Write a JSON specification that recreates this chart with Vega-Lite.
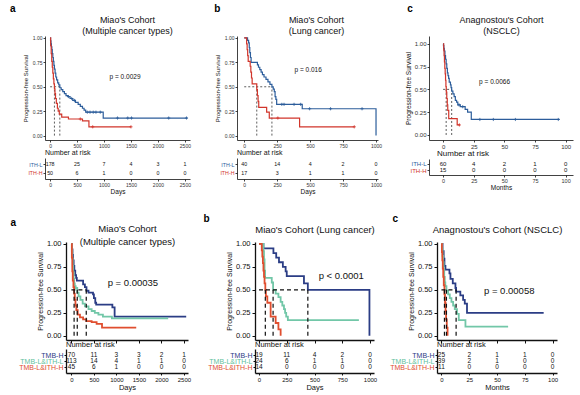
{
"$schema": "https://vega.github.io/schema/vega-lite/v6.json",
"padding": {"left": 9, "top": 3, "right": 2, "bottom": 2},
"config": {"font": "Liberation Sans", "view": {"stroke": null},
 "axis": {"grid": false, "domainColor": "#111", "tickColor": "#111", "labelColor": "#333", "titleColor": "#111", "titleFontWeight": "normal"},
 "title": {"fontWeight": "normal", "color": "#111"}},
"datasets": {
"km": [
{"p":"ta","g":"ITH-L","t":0,"s":1},{"p":"ta","g":"ITH-L","t":8,"s":0.97},{"p":"ta","g":"ITH-L","t":16,"s":0.94},{"p":"ta","g":"ITH-L","t":24,"s":0.91},{"p":"ta","g":"ITH-L","t":32,"s":0.88},{"p":"ta","g":"ITH-L","t":40,"s":0.84},{"p":"ta","g":"ITH-L","t":50,"s":0.8},{"p":"ta","g":"ITH-L","t":60,"s":0.76},{"p":"ta","g":"ITH-L","t":70,"s":0.72},{"p":"ta","g":"ITH-L","t":80,"s":0.68},{"p":"ta","g":"ITH-L","t":92,"s":0.64},{"p":"ta","g":"ITH-L","t":105,"s":0.6},{"p":"ta","g":"ITH-L","t":120,"s":0.57},{"p":"ta","g":"ITH-L","t":140,"s":0.54},{"p":"ta","g":"ITH-L","t":160,"s":0.52},{"p":"ta","g":"ITH-L","t":180,"s":0.49},{"p":"ta","g":"ITH-L","t":205,"s":0.47},{"p":"ta","g":"ITH-L","t":235,"s":0.45},{"p":"ta","g":"ITH-L","t":265,"s":0.43},{"p":"ta","g":"ITH-L","t":295,"s":0.41},{"p":"ta","g":"ITH-L","t":330,"s":0.4},{"p":"ta","g":"ITH-L","t":370,"s":0.38},{"p":"ta","g":"ITH-L","t":420,"s":0.36},{"p":"ta","g":"ITH-L","t":470,"s":0.34},{"p":"ta","g":"ITH-L","t":520,"s":0.32},{"p":"ta","g":"ITH-L","t":560,"s":0.3},{"p":"ta","g":"ITH-L","t":600,"s":0.28},{"p":"ta","g":"ITH-L","t":630,"s":0.26},{"p":"ta","g":"ITH-L","t":660,"s":0.24},{"p":"ta","g":"ITH-L","t":985,"s":0.18},{"p":"ta","g":"ITH-L","t":2550,"s":0.18},
{"p":"ta","g":"ITH-H","t":0,"s":1},{"p":"ta","g":"ITH-H","t":10,"s":0.92},{"p":"ta","g":"ITH-H","t":20,"s":0.84},{"p":"ta","g":"ITH-H","t":30,"s":0.76},{"p":"ta","g":"ITH-H","t":40,"s":0.7},{"p":"ta","g":"ITH-H","t":50,"s":0.64},{"p":"ta","g":"ITH-H","t":60,"s":0.58},{"p":"ta","g":"ITH-H","t":70,"s":0.53},{"p":"ta","g":"ITH-H","t":80,"s":0.48},{"p":"ta","g":"ITH-H","t":90,"s":0.43},{"p":"ta","g":"ITH-H","t":100,"s":0.38},{"p":"ta","g":"ITH-H","t":115,"s":0.33},{"p":"ta","g":"ITH-H","t":135,"s":0.28},{"p":"ta","g":"ITH-H","t":150,"s":0.25},{"p":"ta","g":"ITH-H","t":170,"s":0.22},{"p":"ta","g":"ITH-H","t":215,"s":0.19},{"p":"ta","g":"ITH-H","t":340,"s":0.17},{"p":"ta","g":"ITH-H","t":600,"s":0.15},{"p":"ta","g":"ITH-H","t":720,"s":0.09},{"p":"ta","g":"ITH-H","t":1500,"s":0.09},
{"p":"tb","g":"ITH-L","t":0,"s":1},{"p":"tb","g":"ITH-L","t":25,"s":0.975},{"p":"tb","g":"ITH-L","t":33,"s":0.95},{"p":"tb","g":"ITH-L","t":38,"s":0.9},{"p":"tb","g":"ITH-L","t":42,"s":0.85},{"p":"tb","g":"ITH-L","t":47,"s":0.8},{"p":"tb","g":"ITH-L","t":52,"s":0.75},{"p":"tb","g":"ITH-L","t":100,"s":0.725},{"p":"tb","g":"ITH-L","t":108,"s":0.7},{"p":"tb","g":"ITH-L","t":118,"s":0.675},{"p":"tb","g":"ITH-L","t":128,"s":0.65},{"p":"tb","g":"ITH-L","t":138,"s":0.625},{"p":"tb","g":"ITH-L","t":150,"s":0.6},{"p":"tb","g":"ITH-L","t":165,"s":0.575},{"p":"tb","g":"ITH-L","t":180,"s":0.55},{"p":"tb","g":"ITH-L","t":195,"s":0.525},{"p":"tb","g":"ITH-L","t":210,"s":0.5},{"p":"tb","g":"ITH-L","t":220,"s":0.475},{"p":"tb","g":"ITH-L","t":228,"s":0.45},{"p":"tb","g":"ITH-L","t":234,"s":0.4},{"p":"tb","g":"ITH-L","t":240,"s":0.37},{"p":"tb","g":"ITH-L","t":246,"s":0.32},{"p":"tb","g":"ITH-L","t":440,"s":0.275},{"p":"tb","g":"ITH-L","t":1000,"s":0},
{"p":"tb","g":"ITH-H","t":0,"s":1},{"p":"tb","g":"ITH-H","t":18,"s":0.94},{"p":"tb","g":"ITH-H","t":22,"s":0.88},{"p":"tb","g":"ITH-H","t":26,"s":0.82},{"p":"tb","g":"ITH-H","t":30,"s":0.76},{"p":"tb","g":"ITH-H","t":45,"s":0.71},{"p":"tb","g":"ITH-H","t":50,"s":0.65},{"p":"tb","g":"ITH-H","t":55,"s":0.59},{"p":"tb","g":"ITH-H","t":60,"s":0.53},{"p":"tb","g":"ITH-H","t":95,"s":0.47},{"p":"tb","g":"ITH-H","t":100,"s":0.41},{"p":"tb","g":"ITH-H","t":105,"s":0.35},{"p":"tb","g":"ITH-H","t":110,"s":0.29},{"p":"tb","g":"ITH-H","t":170,"s":0.24},{"p":"tb","g":"ITH-H","t":190,"s":0.18},{"p":"tb","g":"ITH-H","t":420,"s":0.09},{"p":"tb","g":"ITH-H","t":835,"s":0.09},
{"p":"tc","g":"ITH-L","t":0,"s":1},{"p":"tc","g":"ITH-L","t":0.3,"s":0.98},{"p":"tc","g":"ITH-L","t":0.6,"s":0.95},{"p":"tc","g":"ITH-L","t":1,"s":0.92},{"p":"tc","g":"ITH-L","t":1.5,"s":0.87},{"p":"tc","g":"ITH-L","t":2,"s":0.83},{"p":"tc","g":"ITH-L","t":2.5,"s":0.78},{"p":"tc","g":"ITH-L","t":3,"s":0.73},{"p":"tc","g":"ITH-L","t":3.5,"s":0.68},{"p":"tc","g":"ITH-L","t":4,"s":0.65},{"p":"tc","g":"ITH-L","t":4.5,"s":0.62},{"p":"tc","g":"ITH-L","t":5,"s":0.58},{"p":"tc","g":"ITH-L","t":6,"s":0.55},{"p":"tc","g":"ITH-L","t":6.5,"s":0.52},{"p":"tc","g":"ITH-L","t":7,"s":0.48},{"p":"tc","g":"ITH-L","t":8,"s":0.45},{"p":"tc","g":"ITH-L","t":9,"s":0.42},{"p":"tc","g":"ITH-L","t":10,"s":0.38},{"p":"tc","g":"ITH-L","t":11,"s":0.36},{"p":"tc","g":"ITH-L","t":12,"s":0.33},{"p":"tc","g":"ITH-L","t":14,"s":0.31},{"p":"tc","g":"ITH-L","t":18,"s":0.28},{"p":"tc","g":"ITH-L","t":20,"s":0.25},{"p":"tc","g":"ITH-L","t":23,"s":0.17},{"p":"tc","g":"ITH-L","t":95,"s":0.17},
{"p":"tc","g":"ITH-H","t":0,"s":1},{"p":"tc","g":"ITH-H","t":0.5,"s":0.93},{"p":"tc","g":"ITH-H","t":0.8,"s":0.87},{"p":"tc","g":"ITH-H","t":1.1,"s":0.8},{"p":"tc","g":"ITH-H","t":1.4,"s":0.73},{"p":"tc","g":"ITH-H","t":1.7,"s":0.67},{"p":"tc","g":"ITH-H","t":2,"s":0.6},{"p":"tc","g":"ITH-H","t":2.3,"s":0.53},{"p":"tc","g":"ITH-H","t":2.6,"s":0.47},{"p":"tc","g":"ITH-H","t":3,"s":0.4},{"p":"tc","g":"ITH-H","t":3.4,"s":0.33},{"p":"tc","g":"ITH-H","t":3.8,"s":0.27},{"p":"tc","g":"ITH-H","t":4.6,"s":0.18},{"p":"tc","g":"ITH-H","t":11.5,"s":0.11},{"p":"tc","g":"ITH-H","t":13.5,"s":0.11},
{"p":"ba","g":"TMB-H","t":0,"s":1},{"p":"ba","g":"TMB-H","t":12,"s":0.94},{"p":"ba","g":"TMB-H","t":24,"s":0.88},{"p":"ba","g":"TMB-H","t":36,"s":0.82},{"p":"ba","g":"TMB-H","t":50,"s":0.76},{"p":"ba","g":"TMB-H","t":65,"s":0.71},{"p":"ba","g":"TMB-H","t":85,"s":0.66},{"p":"ba","g":"TMB-H","t":105,"s":0.63},{"p":"ba","g":"TMB-H","t":120,"s":0.6},{"p":"ba","g":"TMB-H","t":260,"s":0.56},{"p":"ba","g":"TMB-H","t":300,"s":0.53},{"p":"ba","g":"TMB-H","t":335,"s":0.49},{"p":"ba","g":"TMB-H","t":380,"s":0.47},{"p":"ba","g":"TMB-H","t":480,"s":0.45},{"p":"ba","g":"TMB-H","t":500,"s":0.41},{"p":"ba","g":"TMB-H","t":530,"s":0.36},{"p":"ba","g":"TMB-H","t":550,"s":0.34},{"p":"ba","g":"TMB-H","t":910,"s":0.31},{"p":"ba","g":"TMB-H","t":960,"s":0.21},{"p":"ba","g":"TMB-H","t":2550,"s":0.21},
{"p":"ba","g":"TMB-L&ITH-L","t":0,"s":1},{"p":"ba","g":"TMB-L&ITH-L","t":10,"s":0.92},{"p":"ba","g":"TMB-L&ITH-L","t":20,"s":0.84},{"p":"ba","g":"TMB-L&ITH-L","t":30,"s":0.76},{"p":"ba","g":"TMB-L&ITH-L","t":40,"s":0.69},{"p":"ba","g":"TMB-L&ITH-L","t":50,"s":0.62},{"p":"ba","g":"TMB-L&ITH-L","t":60,"s":0.57},{"p":"ba","g":"TMB-L&ITH-L","t":75,"s":0.54},{"p":"ba","g":"TMB-L&ITH-L","t":95,"s":0.52},{"p":"ba","g":"TMB-L&ITH-L","t":130,"s":0.47},{"p":"ba","g":"TMB-L&ITH-L","t":160,"s":0.43},{"p":"ba","g":"TMB-L&ITH-L","t":200,"s":0.39},{"p":"ba","g":"TMB-L&ITH-L","t":250,"s":0.35},{"p":"ba","g":"TMB-L&ITH-L","t":300,"s":0.32},{"p":"ba","g":"TMB-L&ITH-L","t":380,"s":0.29},{"p":"ba","g":"TMB-L&ITH-L","t":450,"s":0.27},{"p":"ba","g":"TMB-L&ITH-L","t":520,"s":0.25},{"p":"ba","g":"TMB-L&ITH-L","t":600,"s":0.23},{"p":"ba","g":"TMB-L&ITH-L","t":700,"s":0.21},{"p":"ba","g":"TMB-L&ITH-L","t":900,"s":0.19},{"p":"ba","g":"TMB-L&ITH-L","t":2150,"s":0.19},
{"p":"ba","g":"TMB-L&ITH-H","t":0,"s":1},{"p":"ba","g":"TMB-L&ITH-H","t":10,"s":0.85},{"p":"ba","g":"TMB-L&ITH-H","t":20,"s":0.7},{"p":"ba","g":"TMB-L&ITH-H","t":30,"s":0.6},{"p":"ba","g":"TMB-L&ITH-H","t":45,"s":0.53},{"p":"ba","g":"TMB-L&ITH-H","t":60,"s":0.46},{"p":"ba","g":"TMB-L&ITH-H","t":75,"s":0.39},{"p":"ba","g":"TMB-L&ITH-H","t":90,"s":0.33},{"p":"ba","g":"TMB-L&ITH-H","t":110,"s":0.28},{"p":"ba","g":"TMB-L&ITH-H","t":140,"s":0.23},{"p":"ba","g":"TMB-L&ITH-H","t":190,"s":0.2},{"p":"ba","g":"TMB-L&ITH-H","t":260,"s":0.18},{"p":"ba","g":"TMB-L&ITH-H","t":330,"s":0.16},{"p":"ba","g":"TMB-L&ITH-H","t":450,"s":0.15},{"p":"ba","g":"TMB-L&ITH-H","t":560,"s":0.13},{"p":"ba","g":"TMB-L&ITH-H","t":680,"s":0.09},{"p":"ba","g":"TMB-L&ITH-H","t":1440,"s":0.09},
{"p":"bb","g":"TMB-H","t":0,"s":1},{"p":"bb","g":"TMB-H","t":40,"s":0.95},{"p":"bb","g":"TMB-H","t":130,"s":0.9},{"p":"bb","g":"TMB-H","t":155,"s":0.85},{"p":"bb","g":"TMB-H","t":180,"s":0.8},{"p":"bb","g":"TMB-H","t":215,"s":0.75},{"p":"bb","g":"TMB-H","t":240,"s":0.7},{"p":"bb","g":"TMB-H","t":250,"s":0.65},{"p":"bb","g":"TMB-H","t":405,"s":0.57},{"p":"bb","g":"TMB-H","t":440,"s":0.5},{"p":"bb","g":"TMB-H","t":995,"s":0},
{"p":"bb","g":"TMB-L&ITH-L","t":0,"s":1},{"p":"bb","g":"TMB-L&ITH-L","t":40,"s":0.92},{"p":"bb","g":"TMB-L&ITH-L","t":45,"s":0.83},{"p":"bb","g":"TMB-L&ITH-L","t":50,"s":0.71},{"p":"bb","g":"TMB-L&ITH-L","t":55,"s":0.63},{"p":"bb","g":"TMB-L&ITH-L","t":115,"s":0.58},{"p":"bb","g":"TMB-L&ITH-L","t":127,"s":0.5},{"p":"bb","g":"TMB-L&ITH-L","t":150,"s":0.46},{"p":"bb","g":"TMB-L&ITH-L","t":175,"s":0.42},{"p":"bb","g":"TMB-L&ITH-L","t":195,"s":0.37},{"p":"bb","g":"TMB-L&ITH-L","t":210,"s":0.33},{"p":"bb","g":"TMB-L&ITH-L","t":225,"s":0.29},{"p":"bb","g":"TMB-L&ITH-L","t":235,"s":0.25},{"p":"bb","g":"TMB-L&ITH-L","t":245,"s":0.21},{"p":"bb","g":"TMB-L&ITH-L","t":260,"s":0.17},{"p":"bb","g":"TMB-L&ITH-L","t":900,"s":0.17},
{"p":"bb","g":"TMB-L&ITH-H","t":0,"s":1},{"p":"bb","g":"TMB-L&ITH-H","t":25,"s":0.93},{"p":"bb","g":"TMB-L&ITH-H","t":30,"s":0.86},{"p":"bb","g":"TMB-L&ITH-H","t":35,"s":0.79},{"p":"bb","g":"TMB-L&ITH-H","t":40,"s":0.71},{"p":"bb","g":"TMB-L&ITH-H","t":45,"s":0.64},{"p":"bb","g":"TMB-L&ITH-H","t":50,"s":0.57},{"p":"bb","g":"TMB-L&ITH-H","t":57,"s":0.5},{"p":"bb","g":"TMB-L&ITH-H","t":62,"s":0.43},{"p":"bb","g":"TMB-L&ITH-H","t":75,"s":0.36},{"p":"bb","g":"TMB-L&ITH-H","t":105,"s":0.21},{"p":"bb","g":"TMB-L&ITH-H","t":150,"s":0.14},{"p":"bb","g":"TMB-L&ITH-H","t":175,"s":0.07},{"p":"bb","g":"TMB-L&ITH-H","t":195,"s":0},
{"p":"bc","g":"TMB-H","t":0,"s":1},{"p":"bc","g":"TMB-H","t":1,"s":0.92},{"p":"bc","g":"TMB-H","t":2,"s":0.84},{"p":"bc","g":"TMB-H","t":2.7,"s":0.76},{"p":"bc","g":"TMB-H","t":3.6,"s":0.72},{"p":"bc","g":"TMB-H","t":7.2,"s":0.68},{"p":"bc","g":"TMB-H","t":8.1,"s":0.62},{"p":"bc","g":"TMB-H","t":10.2,"s":0.57},{"p":"bc","g":"TMB-H","t":12.6,"s":0.52},{"p":"bc","g":"TMB-H","t":13.2,"s":0.48},{"p":"bc","g":"TMB-H","t":17,"s":0.44},{"p":"bc","g":"TMB-H","t":19.5,"s":0.39},{"p":"bc","g":"TMB-H","t":21,"s":0.35},{"p":"bc","g":"TMB-H","t":23,"s":0.25},{"p":"bc","g":"TMB-H","t":92,"s":0.25},
{"p":"bc","g":"TMB-L&ITH-L","t":0,"s":1},{"p":"bc","g":"TMB-L&ITH-L","t":0.5,"s":0.95},{"p":"bc","g":"TMB-L&ITH-L","t":1,"s":0.87},{"p":"bc","g":"TMB-L&ITH-L","t":1.5,"s":0.8},{"p":"bc","g":"TMB-L&ITH-L","t":2,"s":0.72},{"p":"bc","g":"TMB-L&ITH-L","t":2.5,"s":0.64},{"p":"bc","g":"TMB-L&ITH-L","t":3,"s":0.58},{"p":"bc","g":"TMB-L&ITH-L","t":3.5,"s":0.54},{"p":"bc","g":"TMB-L&ITH-L","t":4.5,"s":0.49},{"p":"bc","g":"TMB-L&ITH-L","t":6,"s":0.45},{"p":"bc","g":"TMB-L&ITH-L","t":7.5,"s":0.41},{"p":"bc","g":"TMB-L&ITH-L","t":9,"s":0.37},{"p":"bc","g":"TMB-L&ITH-L","t":10.5,"s":0.33},{"p":"bc","g":"TMB-L&ITH-L","t":12,"s":0.29},{"p":"bc","g":"TMB-L&ITH-L","t":14,"s":0.24},{"p":"bc","g":"TMB-L&ITH-L","t":15.6,"s":0.17},{"p":"bc","g":"TMB-L&ITH-L","t":21.6,"s":0.1},{"p":"bc","g":"TMB-L&ITH-L","t":60,"s":0.1},
{"p":"bc","g":"TMB-L&ITH-H","t":0,"s":1},{"p":"bc","g":"TMB-L&ITH-H","t":0.4,"s":0.91},{"p":"bc","g":"TMB-L&ITH-H","t":0.8,"s":0.82},{"p":"bc","g":"TMB-L&ITH-H","t":1.2,"s":0.73},{"p":"bc","g":"TMB-L&ITH-H","t":1.6,"s":0.64},{"p":"bc","g":"TMB-L&ITH-H","t":2.1,"s":0.55},{"p":"bc","g":"TMB-L&ITH-H","t":2.7,"s":0.45},{"p":"bc","g":"TMB-L&ITH-H","t":3.2,"s":0.36},{"p":"bc","g":"TMB-L&ITH-H","t":3.7,"s":0.27},{"p":"bc","g":"TMB-L&ITH-H","t":4.2,"s":0.18},{"p":"bc","g":"TMB-L&ITH-H","t":4.8,"s":0.09},{"p":"bc","g":"TMB-L&ITH-H","t":5.5,"s":0}
],
"cens": [
{"p":"ta","g":"ITH-L","t":340,"s":0.4},{"p":"ta","g":"ITH-L","t":400,"s":0.38},{"p":"ta","g":"ITH-L","t":450,"s":0.36},{"p":"ta","g":"ITH-L","t":690,"s":0.24},{"p":"ta","g":"ITH-L","t":740,"s":0.24},{"p":"ta","g":"ITH-L","t":800,"s":0.24},{"p":"ta","g":"ITH-L","t":850,"s":0.24},{"p":"ta","g":"ITH-L","t":930,"s":0.24},{"p":"ta","g":"ITH-L","t":1250,"s":0.18},{"p":"ta","g":"ITH-L","t":1440,"s":0.18},{"p":"ta","g":"ITH-L","t":1510,"s":0.18},{"p":"ta","g":"ITH-L","t":2200,"s":0.18},{"p":"ta","g":"ITH-L","t":2530,"s":0.18},
{"p":"ta","g":"ITH-H","t":560,"s":0.17},{"p":"ta","g":"ITH-H","t":790,"s":0.09},{"p":"ta","g":"ITH-H","t":1500,"s":0.09},
{"p":"tb","g":"ITH-L","t":285,"s":0.32},{"p":"tb","g":"ITH-L","t":302,"s":0.32},{"p":"tb","g":"ITH-L","t":378,"s":0.32},{"p":"tb","g":"ITH-L","t":428,"s":0.32},{"p":"tb","g":"ITH-L","t":496,"s":0.275},{"p":"tb","g":"ITH-L","t":655,"s":0.275},{"p":"tb","g":"ITH-L","t":894,"s":0.275},
{"p":"tb","g":"ITH-H","t":255,"s":0.18},{"p":"tb","g":"ITH-H","t":835,"s":0.09},
{"p":"tc","g":"ITH-L","t":13,"s":0.33},{"p":"tc","g":"ITH-L","t":16,"s":0.31},{"p":"tc","g":"ITH-L","t":30,"s":0.17},{"p":"tc","g":"ITH-L","t":41,"s":0.17},{"p":"tc","g":"ITH-L","t":59,"s":0.17},{"p":"tc","g":"ITH-L","t":94,"s":0.17},
{"p":"tc","g":"ITH-H","t":13.3,"s":0.11}
],
"med": [
{"p":"ta","t":0,"t2":180,"s":0.5,"s2":0.5},{"p":"ta","t":80,"t2":80,"s":0,"s2":0.5},{"p":"ta","t":180,"t2":180,"s":0,"s2":0.5},
{"p":"tb","t":0,"t2":210,"s":0.5,"s2":0.5},{"p":"tb","t":95,"t2":95,"s":0,"s2":0.5},{"p":"tb","t":210,"t2":210,"s":0,"s2":0.5},
{"p":"tc","t":0,"t2":7,"s":0.5,"s2":0.5},{"p":"tc","t":2.5,"t2":2.5,"s":0,"s2":0.5},{"p":"tc","t":7,"t2":7,"s":0,"s2":0.5},
{"p":"ba","t":0,"t2":330,"s":0.5,"s2":0.5},{"p":"ba","t":60,"t2":60,"s":0,"s2":0.5},{"p":"ba","t":130,"t2":130,"s":0,"s2":0.5},{"p":"ba","t":330,"t2":330,"s":0,"s2":0.5},
{"p":"bb","t":0,"t2":440,"s":0.5,"s2":0.5},{"p":"bb","t":57,"t2":57,"s":0,"s2":0.5},{"p":"bb","t":127,"t2":127,"s":0,"s2":0.5},{"p":"bb","t":440,"t2":440,"s":0,"s2":0.5},
{"p":"bc","t":0,"t2":13.2,"s":0.5,"s2":0.5},{"p":"bc","t":2.7,"t2":2.7,"s":0,"s2":0.5},{"p":"bc","t":4.5,"t2":4.5,"s":0,"s2":0.5},{"p":"bc","t":13.2,"t2":13.2,"s":0,"s2":0.5}
],
"pv": [
{"p":"ta","t":1390,"s":0.6,"label":"p = 0.0029"},
{"p":"tb","t":485,"s":0.67,"label":"p = 0.016"},
{"p":"tc","t":42,"s":0.58,"label":"p = 0.0066"},
{"p":"ba","t":1365,"s":0.57,"label":"p = 0.00035"},
{"p":"bb","t":741,"s":0.65,"label":"p < 0.0001"},
{"p":"bc","t":61,"s":0.49,"label":"p = 0.00058"}
],
"risk": [
{"p":"ta","g":"ITH-L","t":0,"n":178},{"p":"ta","g":"ITH-L","t":500,"n":25},{"p":"ta","g":"ITH-L","t":1000,"n":7},{"p":"ta","g":"ITH-L","t":1500,"n":4},{"p":"ta","g":"ITH-L","t":2000,"n":3},{"p":"ta","g":"ITH-L","t":2500,"n":1},
{"p":"ta","g":"ITH-H","t":0,"n":50},{"p":"ta","g":"ITH-H","t":500,"n":6},{"p":"ta","g":"ITH-H","t":1000,"n":1},{"p":"ta","g":"ITH-H","t":1500,"n":0},{"p":"ta","g":"ITH-H","t":2000,"n":0},{"p":"ta","g":"ITH-H","t":2500,"n":0},
{"p":"tb","g":"ITH-L","t":0,"n":40},{"p":"tb","g":"ITH-L","t":250,"n":14},{"p":"tb","g":"ITH-L","t":500,"n":4},{"p":"tb","g":"ITH-L","t":750,"n":2},{"p":"tb","g":"ITH-L","t":1000,"n":0},
{"p":"tb","g":"ITH-H","t":0,"n":17},{"p":"tb","g":"ITH-H","t":250,"n":3},{"p":"tb","g":"ITH-H","t":500,"n":1},{"p":"tb","g":"ITH-H","t":750,"n":1},{"p":"tb","g":"ITH-H","t":1000,"n":0},
{"p":"tc","g":"ITH-L","t":0,"n":60},{"p":"tc","g":"ITH-L","t":25,"n":4},{"p":"tc","g":"ITH-L","t":50,"n":2},{"p":"tc","g":"ITH-L","t":75,"n":1},{"p":"tc","g":"ITH-L","t":100,"n":0},
{"p":"tc","g":"ITH-H","t":0,"n":15},{"p":"tc","g":"ITH-H","t":25,"n":0},{"p":"tc","g":"ITH-H","t":50,"n":0},{"p":"tc","g":"ITH-H","t":75,"n":0},{"p":"tc","g":"ITH-H","t":100,"n":0},
{"p":"ba","g":"TMB-H","t":0,"n":70},{"p":"ba","g":"TMB-H","t":500,"n":11},{"p":"ba","g":"TMB-H","t":1000,"n":3},{"p":"ba","g":"TMB-H","t":1500,"n":3},{"p":"ba","g":"TMB-H","t":2000,"n":2},{"p":"ba","g":"TMB-H","t":2500,"n":1},
{"p":"ba","g":"TMB-L&ITH-L","t":0,"n":113},{"p":"ba","g":"TMB-L&ITH-L","t":500,"n":14},{"p":"ba","g":"TMB-L&ITH-L","t":1000,"n":4},{"p":"ba","g":"TMB-L&ITH-L","t":1500,"n":1},{"p":"ba","g":"TMB-L&ITH-L","t":2000,"n":1},{"p":"ba","g":"TMB-L&ITH-L","t":2500,"n":0},
{"p":"ba","g":"TMB-L&ITH-H","t":0,"n":45},{"p":"ba","g":"TMB-L&ITH-H","t":500,"n":6},{"p":"ba","g":"TMB-L&ITH-H","t":1000,"n":1},{"p":"ba","g":"TMB-L&ITH-H","t":1500,"n":0},{"p":"ba","g":"TMB-L&ITH-H","t":2000,"n":0},{"p":"ba","g":"TMB-L&ITH-H","t":2500,"n":0},
{"p":"bb","g":"TMB-H","t":0,"n":19},{"p":"bb","g":"TMB-H","t":250,"n":11},{"p":"bb","g":"TMB-H","t":500,"n":4},{"p":"bb","g":"TMB-H","t":750,"n":2},{"p":"bb","g":"TMB-H","t":1000,"n":0},
{"p":"bb","g":"TMB-L&ITH-L","t":0,"n":24},{"p":"bb","g":"TMB-L&ITH-L","t":250,"n":6},{"p":"bb","g":"TMB-L&ITH-L","t":500,"n":1},{"p":"bb","g":"TMB-L&ITH-L","t":750,"n":1},{"p":"bb","g":"TMB-L&ITH-L","t":1000,"n":0},
{"p":"bb","g":"TMB-L&ITH-H","t":0,"n":14},{"p":"bb","g":"TMB-L&ITH-H","t":250,"n":0},{"p":"bb","g":"TMB-L&ITH-H","t":500,"n":0},{"p":"bb","g":"TMB-L&ITH-H","t":750,"n":0},{"p":"bb","g":"TMB-L&ITH-H","t":1000,"n":0},
{"p":"bc","g":"TMB-H","t":0,"n":25},{"p":"bc","g":"TMB-H","t":25,"n":2},{"p":"bc","g":"TMB-H","t":50,"n":1},{"p":"bc","g":"TMB-H","t":75,"n":1},{"p":"bc","g":"TMB-H","t":100,"n":0},
{"p":"bc","g":"TMB-L&ITH-L","t":0,"n":39},{"p":"bc","g":"TMB-L&ITH-L","t":25,"n":2},{"p":"bc","g":"TMB-L&ITH-L","t":50,"n":1},{"p":"bc","g":"TMB-L&ITH-L","t":75,"n":0},{"p":"bc","g":"TMB-L&ITH-L","t":100,"n":0},
{"p":"bc","g":"TMB-L&ITH-H","t":0,"n":11},{"p":"bc","g":"TMB-L&ITH-H","t":25,"n":0},{"p":"bc","g":"TMB-L&ITH-H","t":50,"n":0},{"p":"bc","g":"TMB-L&ITH-H","t":75,"n":0},{"p":"bc","g":"TMB-L&ITH-H","t":100,"n":0}
]
},
"vconcat": [
{"spacing": 0, "hconcat": [
 {"width": 1, "height": 1, "data": {"values": []}, "mark": "point"},
 {"spacing": 23, "hconcat": [
 {"spacing": 1, "vconcat": [
  {"width": 145, "height": 104,
   "title": {"text": "a", "anchor": "start", "frame": "group", "fontSize": 10, "fontWeight": "bold", "color": "#000", "offset": 1.5, "dx": -35},
   "resolve": {"axis": {"x": "independent"}},
   "encoding": {"y": {"field": "s", "type": "quantitative", "scale": {"domain": [-0.045, 1.02], "nice": false, "zero": false}, "axis": {"values": [0,0.25,0.5,0.75,1], "format": ".2f", "title": "Progression-free Survival", "labelFontSize": 5, "titleFontSize": 6, "tickSize": 2, "labelPadding": 1, "titlePadding": 4, "domainWidth": 0.8, "tickWidth": 0.8}}},
   "layer": [
    {"data": {"name": "med"}, "transform": [{"filter": "datum.p=='ta'"}], "mark": {"type": "rule", "strokeDash": [2,2], "color": "#333", "strokeWidth": 0.8}, "encoding": {"x": {"field": "t", "type": "quantitative", "scale": {"domain": [-95, 2595], "nice": false, "zero": false}, "axis": {"values": [0,500,1000,1500,2000,2500], "format": "d", "title": null, "labelFontSize": 5, "tickSize": 2, "labelPadding": 1, "domainWidth": 0.8, "tickWidth": 0.8}}, "x2": {"field": "t2"}, "y2": {"field": "s2"}}},
    {"data": {"name": "km"}, "transform": [{"filter": "datum.p=='ta'"}], "mark": {"type": "line", "interpolate": "step-after", "strokeWidth": 1.2}, "encoding": {"x": {"field": "t", "type": "quantitative", "axis": null}, "color": {"field": "g", "type": "nominal", "scale": {"domain": ["ITH-L","ITH-H","TMB-H","TMB-L&ITH-L","TMB-L&ITH-H"], "range": ["#2c5d9b","#d1352b","#2b3d85","#72c7a8","#e04e2f"]}, "legend": null}}},
    {"data": {"name": "cens"}, "transform": [{"filter": "datum.p=='ta'"}], "mark": {"type": "point", "shape": "M-1,0H1M0,-1V1", "size": 10, "strokeWidth": 0.8, "filled": false, "opacity": 1}, "encoding": {"x": {"field": "t", "type": "quantitative", "axis": null}, "color": {"field": "g", "type": "nominal", "legend": null}}},
    {"data": {"name": "pv"}, "transform": [{"filter": "datum.p=='ta'"}], "mark": {"type": "text", "fontSize": 6.5, "color": "#111"}, "encoding": {"x": {"field": "t", "type": "quantitative", "axis": {"orient": "top", "title": ["Miao's Cohort", "(Multiple cancer types)"], "labels": false, "ticks": false, "domain": false, "titleFontSize": 9, "titleLineHeight": 11, "titlePadding": 1, "titleX": 82}}, "text": {"field": "label"}}}
   ]},
  {"width": 145, "height": 21,
   "title": {"text": "Number at risk", "anchor": "start", "frame": "group", "fontSize": 7, "offset": 2},
   "data": {"name": "risk"}, "transform": [{"filter": "datum.p=='ta'"}],
   "mark": {"type": "text", "fontSize": 5.3, "color": "#111"},
   "encoding": {
    "x": {"field": "t", "type": "quantitative", "scale": {"domain": [-95, 2595], "nice": false, "zero": false}, "axis": {"values": [0,500,1000,1500,2000,2500], "format": "d", "title": "Days", "labelFontSize": 5, "titleFontSize": 6.5, "tickSize": 2, "labelPadding": 1, "titlePadding": 1, "domainWidth": 0.8, "tickWidth": 0.8}},
    "y": {"field": "g", "type": "nominal", "sort": ["ITH-L","ITH-H"], "scale": {"type": "point", "padding": 0.8}, "axis": {"title": null, "labelFontSize": 5.3, "tickSize": 2, "labelPadding": 1, "domainWidth": 0.8, "tickWidth": 0.8, "labelColor": {"condition": {"test": "datum.value === 'ITH-L'", "value": "#2c5d9b"}, "value": "#d1352b"}}},
    "text": {"field": "n", "type": "quantitative"}
   }}
 ]},
 {"spacing": 1, "vconcat": [
  {"width": 141, "height": 104,
   "title": {"text": "b", "anchor": "start", "frame": "bounds", "fontSize": 10, "fontWeight": "bold", "color": "#000", "offset": 1.5},
   "resolve": {"axis": {"x": "independent"}},
   "encoding": {"y": {"field": "s", "type": "quantitative", "scale": {"domain": [-0.045, 1.02], "nice": false, "zero": false}, "axis": {"values": [0,0.25,0.5,0.75,1], "format": ".2f", "title": "Progression-free Survival", "labelFontSize": 5, "titleFontSize": 6, "tickSize": 2, "labelPadding": 1, "titlePadding": 4, "domainWidth": 0.8, "tickWidth": 0.8}}},
   "layer": [
    {"data": {"name": "med"}, "transform": [{"filter": "datum.p=='tb'"}], "mark": {"type": "rule", "strokeDash": [2,2], "color": "#333", "strokeWidth": 0.8}, "encoding": {"x": {"field": "t", "type": "quantitative", "scale": {"domain": [-55, 1015], "nice": false, "zero": false}, "axis": {"values": [0,250,500,750,1000], "format": "d", "title": null, "labelFontSize": 5, "tickSize": 2, "labelPadding": 1, "domainWidth": 0.8, "tickWidth": 0.8}}, "x2": {"field": "t2"}, "y2": {"field": "s2"}}},
    {"data": {"name": "km"}, "transform": [{"filter": "datum.p=='tb'"}], "mark": {"type": "line", "interpolate": "step-after", "strokeWidth": 1.2}, "encoding": {"x": {"field": "t", "type": "quantitative", "axis": null}, "color": {"field": "g", "type": "nominal", "scale": {"domain": ["ITH-L","ITH-H","TMB-H","TMB-L&ITH-L","TMB-L&ITH-H"], "range": ["#2c5d9b","#d1352b","#2b3d85","#72c7a8","#e04e2f"]}, "legend": null}}},
    {"data": {"name": "cens"}, "transform": [{"filter": "datum.p=='tb'"}], "mark": {"type": "point", "shape": "M-1,0H1M0,-1V1", "size": 10, "strokeWidth": 0.8, "filled": false, "opacity": 1}, "encoding": {"x": {"field": "t", "type": "quantitative", "axis": null}, "color": {"field": "g", "type": "nominal", "legend": null}}},
    {"data": {"name": "pv"}, "transform": [{"filter": "datum.p=='tb'"}], "mark": {"type": "text", "fontSize": 6.5, "color": "#111"}, "encoding": {"x": {"field": "t", "type": "quantitative", "axis": {"orient": "top", "title": ["Miao's Cohort", "(Lung cancer)"], "labels": false, "ticks": false, "domain": false, "titleFontSize": 9, "titleLineHeight": 11, "titlePadding": 1, "titleX": 79}}, "text": {"field": "label"}}}
   ]},
  {"width": 141, "height": 21,
   "title": {"text": "Number at risk", "anchor": "start", "frame": "group", "fontSize": 7, "offset": 2},
   "data": {"name": "risk"}, "transform": [{"filter": "datum.p=='tb'"}],
   "mark": {"type": "text", "fontSize": 5.3, "color": "#111"},
   "encoding": {
    "x": {"field": "t", "type": "quantitative", "scale": {"domain": [-55, 1015], "nice": false, "zero": false}, "axis": {"values": [0,250,500,750,1000], "format": "d", "title": "Days", "labelFontSize": 5, "titleFontSize": 6.5, "tickSize": 2, "labelPadding": 1, "titlePadding": 1, "domainWidth": 0.8, "tickWidth": 0.8}},
    "y": {"field": "g", "type": "nominal", "sort": ["ITH-L","ITH-H"], "scale": {"type": "point", "padding": 0.8}, "axis": {"title": null, "labelFontSize": 5.3, "tickSize": 2, "labelPadding": 1, "domainWidth": 0.8, "tickWidth": 0.8, "labelColor": {"condition": {"test": "datum.value === 'ITH-L'", "value": "#2c5d9b"}, "value": "#d1352b"}}},
    "text": {"field": "n", "type": "quantitative"}
   }}
 ]},
 {"spacing": 1, "vconcat": [
  {"width": 144, "height": 104,
   "title": {"text": "c", "anchor": "start", "frame": "bounds", "fontSize": 10, "fontWeight": "bold", "color": "#000", "offset": 1.5, "dx": 2},
   "resolve": {"axis": {"x": "independent"}},
   "encoding": {"y": {"field": "s", "type": "quantitative", "scale": {"domain": [-0.055, 1.085], "nice": false, "zero": false}, "axis": {"values": [0,0.25,0.5,0.75,1], "format": ".2f", "title": "Progression-free Survival", "labelFontSize": 6, "titleFontSize": 6.5, "tickSize": 2, "labelPadding": 1, "titlePadding": 3, "domainWidth": 0.8, "tickWidth": 0.8}}},
   "layer": [
    {"data": {"name": "med"}, "transform": [{"filter": "datum.p=='tc'"}], "mark": {"type": "rule", "strokeDash": [2,2], "color": "#333", "strokeWidth": 0.8}, "encoding": {"x": {"field": "t", "type": "quantitative", "scale": {"domain": [-11.5, 106], "nice": false, "zero": false}, "axis": {"values": [0,25,50,75,100], "format": "d", "title": null, "labelFontSize": 6, "tickSize": 2, "labelPadding": 1, "domainWidth": 0.8, "tickWidth": 0.8}}, "x2": {"field": "t2"}, "y2": {"field": "s2"}}},
    {"data": {"name": "km"}, "transform": [{"filter": "datum.p=='tc'"}], "mark": {"type": "line", "interpolate": "step-after", "strokeWidth": 1.2}, "encoding": {"x": {"field": "t", "type": "quantitative", "axis": null}, "color": {"field": "g", "type": "nominal", "scale": {"domain": ["ITH-L","ITH-H","TMB-H","TMB-L&ITH-L","TMB-L&ITH-H"], "range": ["#2c5d9b","#d1352b","#2b3d85","#72c7a8","#e04e2f"]}, "legend": null}}},
    {"data": {"name": "cens"}, "transform": [{"filter": "datum.p=='tc'"}], "mark": {"type": "point", "shape": "M-1,0H1M0,-1V1", "size": 10, "strokeWidth": 0.8, "filled": false, "opacity": 1}, "encoding": {"x": {"field": "t", "type": "quantitative", "axis": null}, "color": {"field": "g", "type": "nominal", "legend": null}}},
    {"data": {"name": "pv"}, "transform": [{"filter": "datum.p=='tc'"}], "mark": {"type": "text", "fontSize": 6.5, "color": "#111"}, "encoding": {"x": {"field": "t", "type": "quantitative", "axis": {"orient": "top", "title": ["Anagnostou's Cohort", "(NSCLC)"], "labels": false, "ticks": false, "domain": false, "titleFontSize": 9, "titleLineHeight": 11, "titlePadding": 1, "titleX": 72}}, "text": {"field": "label"}}}
   ]},
  {"width": 144, "height": 16,
   "title": {"text": "Number at risk", "anchor": "start", "frame": "group", "fontSize": 8, "offset": 1, "dx": 8},
   "data": {"name": "risk"}, "transform": [{"filter": "datum.p=='tc'"}],
   "mark": {"type": "text", "fontSize": 6, "color": "#111"},
   "encoding": {
    "x": {"field": "t", "type": "quantitative", "scale": {"domain": [-11.5, 106], "nice": false, "zero": false}, "axis": {"values": [0,25,50,75,100], "format": "d", "title": "Months", "labelFontSize": 5.5, "titleFontSize": 6.5, "tickSize": 2, "labelPadding": 1, "titlePadding": 1, "domainWidth": 0.8, "tickWidth": 0.8}},
    "y": {"field": "g", "type": "nominal", "sort": ["ITH-L","ITH-H"], "scale": {"type": "point", "padding": 0.7}, "axis": {"title": null, "labelFontSize": 6, "tickSize": 2, "labelPadding": 1, "domainWidth": 0.8, "tickWidth": 0.8, "labelColor": {"condition": {"test": "datum.value === 'ITH-L'", "value": "#2c5d9b"}, "value": "#d1352b"}}},
    "text": {"field": "n", "type": "quantitative"}
   }}
 ]}
 ]}
]},
{"spacing": 0, "hconcat": [
 {"width": 1, "height": 1, "data": {"values": []}, "mark": "point"},
 {"spacing": 12, "hconcat": [
 {"spacing": -4, "vconcat": [
  {"width": 122, "height": 98,
   "title": {"text": "a", "anchor": "start", "frame": "bounds", "fontSize": 10, "fontWeight": "bold", "color": "#000", "offset": -4, "dx": -26},
   "resolve": {"axis": {"x": "independent"}},
   "encoding": {"y": {"field": "s", "type": "quantitative", "scale": {"domain": [-0.045, 1.02], "nice": false, "zero": false}, "axis": {"values": [0,0.25,0.5,0.75,1], "format": ".2f", "title": "Progression-free Survival", "labelFontSize": 7.5, "labelColor": "#111", "titleFontSize": 7, "tickSize": 3, "labelPadding": 2, "titlePadding": 3, "domainWidth": 1.3, "tickWidth": 1}}},
   "layer": [
    {"data": {"name": "km"}, "transform": [{"filter": "datum.p=='ba'"}], "mark": {"type": "line", "interpolate": "step-after", "strokeWidth": 1.8}, "encoding": {"x": {"field": "t", "type": "quantitative", "scale": {"domain": [-120, 2590], "nice": false, "zero": false}, "axis": {"values": [0,500,1000,1500,2000,2500], "title": null, "labels": false, "tickSize": 3, "domainWidth": 1.3, "tickWidth": 1}}, "color": {"field": "g", "type": "nominal", "scale": {"domain": ["ITH-L","ITH-H","TMB-H","TMB-L&ITH-L","TMB-L&ITH-H"], "range": ["#2c5d9b","#d1352b","#2b3d85","#72c7a8","#e04e2f"]}, "legend": null}}},
    {"data": {"name": "med"}, "transform": [{"filter": "datum.p=='ba'"}], "mark": {"type": "rule", "strokeDash": [4,3], "color": "#111", "strokeWidth": 1.2}, "encoding": {"x": {"field": "t", "type": "quantitative", "axis": null}, "x2": {"field": "t2"}, "y2": {"field": "s2"}}},
    {"data": {"name": "pv"}, "transform": [{"filter": "datum.p=='ba'"}], "mark": {"type": "text", "fontSize": 9.5, "color": "#111"}, "encoding": {"x": {"field": "t", "type": "quantitative", "axis": {"orient": "top", "title": ["Miao's Cohort", "(Multiple cancer types)"], "labels": false, "ticks": false, "domain": false, "titleFontSize": 9.5, "titleLineHeight": 12.5, "titlePadding": -4}}, "text": {"field": "label"}}}
   ]},
  {"width": 122, "height": 24,
   "title": {"text": "Number at risk", "anchor": "start", "frame": "group", "fontSize": 7.5, "offset": 1},
   "data": {"name": "risk"}, "transform": [{"filter": "datum.p=='ba'"}],
   "mark": {"type": "text", "fontSize": 6.5, "color": "#111"},
   "encoding": {
    "x": {"field": "t", "type": "quantitative", "scale": {"domain": [-120, 2590], "nice": false, "zero": false}, "axis": {"values": [0,500,1000,1500,2000,2500], "format": "d", "title": "Days", "labelFontSize": 6, "labelColor": "#111", "titleFontSize": 7.5, "tickSize": 2, "labelPadding": 1, "titlePadding": 1, "domainWidth": 1.3, "tickWidth": 1}},
    "y": {"field": "g", "type": "nominal", "sort": ["TMB-H","TMB-L&ITH-L","TMB-L&ITH-H"], "scale": {"type": "point", "padding": 1}, "axis": {"title": null, "labelFontSize": 7, "tickSize": 2, "labelPadding": 1, "domainWidth": 1.3, "tickWidth": 1, "labelColor": {"condition": [{"test": "datum.value === 'TMB-H'", "value": "#2b3d85"}, {"test": "datum.value === 'TMB-L&ITH-L'", "value": "#5fbf9c"}], "value": "#e04e2f"}}},
    "text": {"field": "n", "type": "quantitative"}
   }}
 ]},
 {"spacing": -4, "vconcat": [
  {"width": 119, "height": 98,
   "title": {"text": "b", "anchor": "start", "frame": "bounds", "fontSize": 10, "fontWeight": "bold", "color": "#000", "offset": 0, "dx": -22},
   "resolve": {"axis": {"x": "independent"}},
   "encoding": {"y": {"field": "s", "type": "quantitative", "scale": {"domain": [-0.045, 1.02], "nice": false, "zero": false}, "axis": {"values": [0,0.25,0.5,0.75,1], "format": ".2f", "title": "Progression-free Survival", "labelFontSize": 7.5, "labelColor": "#111", "titleFontSize": 7, "tickSize": 3, "labelPadding": 2, "titlePadding": 3, "domainWidth": 1.3, "tickWidth": 1}}},
   "layer": [
    {"data": {"name": "km"}, "transform": [{"filter": "datum.p=='bb'"}], "mark": {"type": "line", "interpolate": "step-after", "strokeWidth": 1.8}, "encoding": {"x": {"field": "t", "type": "quantitative", "scale": {"domain": [-36, 1036], "nice": false, "zero": false}, "axis": {"values": [0,250,500,750,1000], "title": null, "labels": false, "tickSize": 3, "domainWidth": 1.3, "tickWidth": 1}}, "color": {"field": "g", "type": "nominal", "scale": {"domain": ["ITH-L","ITH-H","TMB-H","TMB-L&ITH-L","TMB-L&ITH-H"], "range": ["#2c5d9b","#d1352b","#2b3d85","#72c7a8","#e04e2f"]}, "legend": null}}},
    {"data": {"name": "med"}, "transform": [{"filter": "datum.p=='bb'"}], "mark": {"type": "rule", "strokeDash": [4,3], "color": "#111", "strokeWidth": 1.2}, "encoding": {"x": {"field": "t", "type": "quantitative", "axis": null}, "x2": {"field": "t2"}, "y2": {"field": "s2"}}},
    {"data": {"name": "pv"}, "transform": [{"filter": "datum.p=='bb'"}], "mark": {"type": "text", "fontSize": 9.5, "color": "#111"}, "encoding": {"x": {"field": "t", "type": "quantitative", "axis": {"orient": "top", "title": "Miao's Cohort (Lung cancer)", "labels": false, "ticks": false, "domain": false, "titleFontSize": 9.5, "titlePadding": 8}}, "text": {"field": "label"}}}
   ]},
  {"width": 119, "height": 24,
   "title": {"text": "Number at risk", "anchor": "start", "frame": "group", "fontSize": 7.5, "offset": 1},
   "data": {"name": "risk"}, "transform": [{"filter": "datum.p=='bb'"}],
   "mark": {"type": "text", "fontSize": 6.5, "color": "#111"},
   "encoding": {
    "x": {"field": "t", "type": "quantitative", "scale": {"domain": [-36, 1036], "nice": false, "zero": false}, "axis": {"values": [0,250,500,750,1000], "format": "d", "title": "Days", "labelFontSize": 6, "labelColor": "#111", "titleFontSize": 7.5, "tickSize": 2, "labelPadding": 1, "titlePadding": 1, "domainWidth": 1.3, "tickWidth": 1}},
    "y": {"field": "g", "type": "nominal", "sort": ["TMB-H","TMB-L&ITH-L","TMB-L&ITH-H"], "scale": {"type": "point", "padding": 1}, "axis": {"title": null, "labelFontSize": 7, "tickSize": 2, "labelPadding": 1, "domainWidth": 1.3, "tickWidth": 1, "labelColor": {"condition": [{"test": "datum.value === 'TMB-H'", "value": "#2b3d85"}, {"test": "datum.value === 'TMB-L&ITH-L'", "value": "#5fbf9c"}], "value": "#e04e2f"}}},
    "text": {"field": "n", "type": "quantitative"}
   }}
 ]},
 {"spacing": -4, "vconcat": [
  {"width": 120, "height": 98,
   "title": {"text": "c", "anchor": "start", "frame": "bounds", "fontSize": 10, "fontWeight": "bold", "color": "#000", "offset": 0, "dx": -15},
   "resolve": {"axis": {"x": "independent"}},
   "encoding": {"y": {"field": "s", "type": "quantitative", "scale": {"domain": [-0.045, 1.02], "nice": false, "zero": false}, "axis": {"values": [0,0.25,0.5,0.75,1], "format": ".2f", "title": "Progression-free Survival", "labelFontSize": 7.5, "labelColor": "#111", "titleFontSize": 7, "tickSize": 3, "labelPadding": 2, "titlePadding": 3, "domainWidth": 1.3, "tickWidth": 1}}},
   "layer": [
    {"data": {"name": "km"}, "transform": [{"filter": "datum.p=='bc'"}], "mark": {"type": "line", "interpolate": "step-after", "strokeWidth": 1.8}, "encoding": {"x": {"field": "t", "type": "quantitative", "scale": {"domain": [-4, 104], "nice": false, "zero": false}, "axis": {"values": [0,25,50,75,100], "title": null, "labels": false, "tickSize": 3, "domainWidth": 1.3, "tickWidth": 1}}, "color": {"field": "g", "type": "nominal", "scale": {"domain": ["ITH-L","ITH-H","TMB-H","TMB-L&ITH-L","TMB-L&ITH-H"], "range": ["#2c5d9b","#d1352b","#2b3d85","#72c7a8","#e04e2f"]}, "legend": null}}},
    {"data": {"name": "med"}, "transform": [{"filter": "datum.p=='bc'"}], "mark": {"type": "rule", "strokeDash": [4,3], "color": "#111", "strokeWidth": 1.2}, "encoding": {"x": {"field": "t", "type": "quantitative", "axis": null}, "x2": {"field": "t2"}, "y2": {"field": "s2"}}},
    {"data": {"name": "pv"}, "transform": [{"filter": "datum.p=='bc'"}], "mark": {"type": "text", "fontSize": 9.5, "color": "#111"}, "encoding": {"x": {"field": "t", "type": "quantitative", "axis": {"orient": "top", "title": "Anagnostou's Cohort (NSCLC)", "labels": false, "ticks": false, "domain": false, "titleFontSize": 9.5, "titlePadding": 8}}, "text": {"field": "label"}}}
   ]},
  {"width": 120, "height": 24,
   "title": {"text": "Number at risk", "anchor": "start", "frame": "group", "fontSize": 7.5, "offset": 1},
   "data": {"name": "risk"}, "transform": [{"filter": "datum.p=='bc'"}],
   "mark": {"type": "text", "fontSize": 6.5, "color": "#111"},
   "encoding": {
    "x": {"field": "t", "type": "quantitative", "scale": {"domain": [-4, 104], "nice": false, "zero": false}, "axis": {"values": [0,25,50,75,100], "format": "d", "title": "Months", "labelFontSize": 6, "labelColor": "#111", "titleFontSize": 7.5, "tickSize": 2, "labelPadding": 1, "titlePadding": 1, "domainWidth": 1.3, "tickWidth": 1}},
    "y": {"field": "g", "type": "nominal", "sort": ["TMB-H","TMB-L&ITH-L","TMB-L&ITH-H"], "scale": {"type": "point", "padding": 1}, "axis": {"title": null, "labelFontSize": 7, "tickSize": 2, "labelPadding": 1, "domainWidth": 1.3, "tickWidth": 1, "labelColor": {"condition": [{"test": "datum.value === 'TMB-H'", "value": "#2b3d85"}, {"test": "datum.value === 'TMB-L&ITH-L'", "value": "#5fbf9c"}], "value": "#e04e2f"}}},
    "text": {"field": "n", "type": "quantitative"}
   }}
 ]}
 ]}
]}
],
"spacing": 19
}
